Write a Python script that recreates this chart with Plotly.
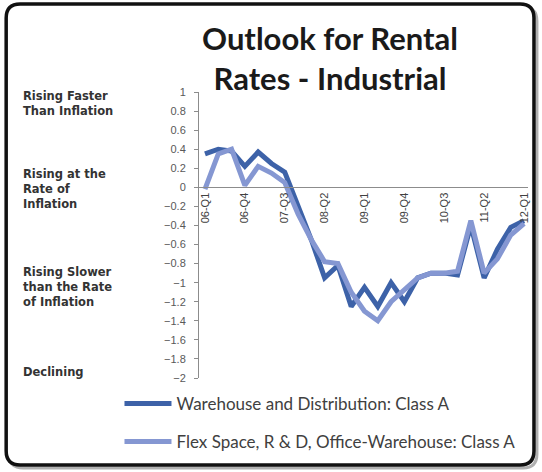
import plotly.graph_objects as go

quarters = ["06-Q1", "06-Q2", "06-Q3", "06-Q4", "07-Q1", "07-Q2", "07-Q3", "07-Q4",
            "08-Q1", "08-Q2", "08-Q3", "08-Q4", "09-Q1", "09-Q2", "09-Q3", "09-Q4",
            "10-Q1", "10-Q2", "10-Q3", "10-Q4", "11-Q1", "11-Q2", "11-Q3", "11-Q4", "12-Q1"]
tick_labels = ["06-Q1", "06-Q4", "07-Q3", "08-Q2", "09-Q1", "09-Q4", "10-Q3", "11-Q2", "12-Q1"]

warehouse = [0.35, 0.40, 0.38, 0.22, 0.37, 0.25, 0.16, -0.18, -0.55, -0.95, -0.82, -1.25, -1.05,
             -1.25, -1.0, -1.2, -0.95, -0.9, -0.9, -0.92, -0.4, -0.95, -0.65, -0.42, -0.35]
flex = [-0.02, 0.35, 0.40, 0.02, 0.22, 0.15, 0.05, -0.28, -0.55, -0.78, -0.8, -1.1, -1.3,
        -1.4, -1.2, -1.08, -0.95, -0.9, -0.9, -0.88, -0.35, -0.9, -0.75, -0.5, -0.38]

series_names = ["Warehouse and Distribution: Class A", "Flex Space, R & D, Office-Warehouse: Class A"]
zone_labels = ["Rising Faster<br>Than Inflation", "Rising at the<br>Rate of<br>Inflation",
               "Rising Slower<br>than the Rate<br>of Inflation", "Declining"]

W, H = 542, 472
L, R, T, B = 199, 12, 92, 94
PW, PH = W - L - R, H - T - B


def fx(p):
    return (p - L) / PW


def fy(p):
    return (H - B - p) / PH


fig = go.Figure()
fig.add_trace(go.Scatter(x=quarters, y=warehouse, mode="lines", name=series_names[0],
                         line=dict(color="#3d62a8", width=5), legend="legend"))
fig.add_trace(go.Scatter(x=quarters, y=flex, mode="lines", name=series_names[1],
                         line=dict(color="#8597d2", width=5), legend="legend2"))

zone_y = [87, 165, 263, 363]
for txt, yy in zip(zone_labels, zone_y):
    fig.add_annotation(text=txt, xref="paper", yref="paper", x=fx(20), y=fy(yy),
                       xanchor="left", yanchor="top", showarrow=False, align="left",
                       font=dict(family="DejaVu Sans", size=11.5, color="#333333", weight="bold"))


def rounded(xa, xb, ya, yb, r):
    x0, x1, y0, y1 = fx(xa), fx(xb), fy(ya), fy(yb)
    rx, ry = r / PW, r / PH
    return (f"M{x0+rx},{y0} L{x1-rx},{y0} Q{x1},{y0} {x1},{y0-ry} L{x1},{y1+ry} "
            f"Q{x1},{y1} {x1-rx},{y1} L{x0+rx},{y1} Q{x0},{y1} {x0},{y1+ry} "
            f"L{x0},{y0-ry} Q{x0},{y0} {x0+rx},{y0} Z")


# soft shadow, then frame
fig.add_shape(type="path", path=rounded(8, 539, 7, 468, 14), xref="paper", yref="paper",
              line=dict(color="#b0b0b0", width=3), layer="below")
fig.add_shape(type="path", path=rounded(5, 536, 4, 465, 14), xref="paper", yref="paper",
              line=dict(color="#111111", width=3.5), fillcolor="white", layer="below")

fig.update_layout(
    width=W, height=H,
    margin=dict(l=L, r=R, t=T, b=B),
    paper_bgcolor="white", plot_bgcolor="rgba(0,0,0,0)",
    title=dict(text="Outlook for Rental<br>Rates - Industrial", x=330 / W, xanchor="center",
               y=1 - 50 / H, yanchor="middle", yref="container",
               font=dict(family="Lato", size=31, color="#1a1a1a", weight="bold")),
    xaxis=dict(type="category", categoryorder="array", categoryarray=quarters,
               range=[-0.45, 24.3], tickvals=tick_labels, ticktext=tick_labels,
               tickangle=-90, anchor="free", position=2 / 3, showline=True,
               linecolor="#8c8c8c", linewidth=1, showgrid=False, zeroline=False,
               ticks="", tickfont=dict(family="Liberation Sans", size=11, color="#404040")),
    yaxis=dict(range=[-2, 1], dtick=0.2, tick0=0, showline=True, linecolor="#8c8c8c",
               linewidth=1, ticks="outside", ticklen=4, tickcolor="#8c8c8c",
               showgrid=False, zeroline=False, ticklabelstandoff=6,
               tickfont=dict(family="Liberation Sans", size=11, color="#595959")),
    showlegend=True,
    legend=dict(x=fx(119), y=fy(404), xanchor="left", yanchor="middle",
                bgcolor="rgba(0,0,0,0)", itemwidth=47,
                font=dict(family="Lato", size=17, color="#404040")),
    legend2=dict(x=fx(119), y=fy(442), xanchor="left", yanchor="middle",
                 bgcolor="rgba(0,0,0,0)", itemwidth=47,
                 font=dict(family="Lato", size=17, color="#404040")),
)

fig.write_html("out.html", post_script="document.body.style.margin='0';",
               config={"displayModeBar": False})
